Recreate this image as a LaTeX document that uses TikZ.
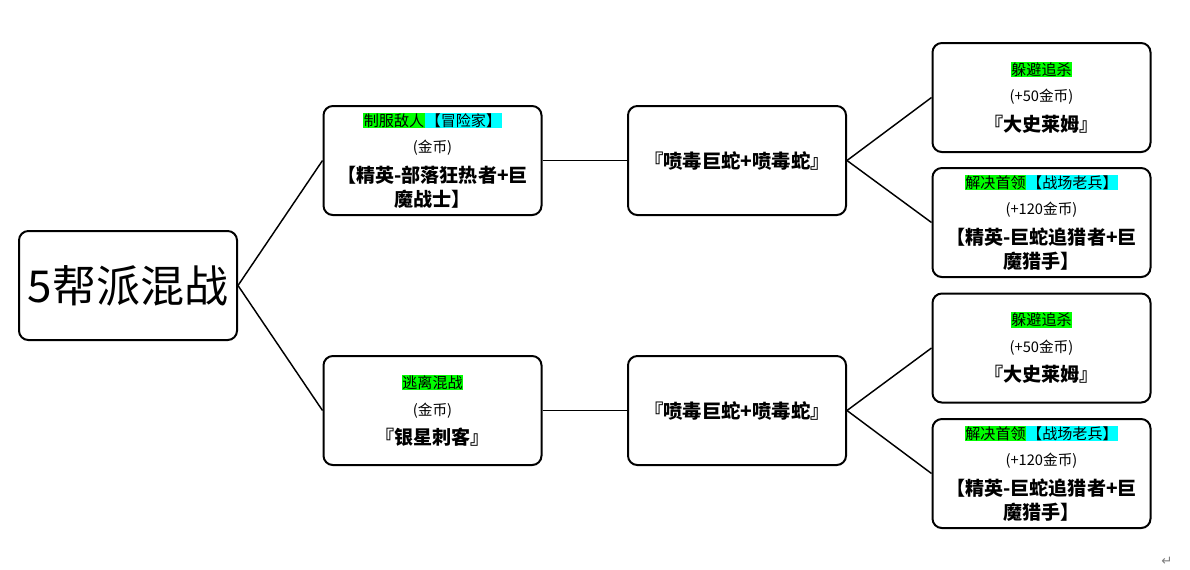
\documentclass[tikz,border=0pt]{standalone}
\usepackage{fontspec}
\setmainfont{Noto Sans CJK SC}
\newfontfamily\symfont{DejaVu Sans}
\usetikzlibrary{positioning}
\definecolor{hlgreen}{RGB}{0,255,0}
\definecolor{hlcyan}{RGB}{0,255,255}
\newcommand{\taggreen}[1]{{\setlength{\fboxsep}{0.6pt}\colorbox{hlgreen}{#1}}}
\newcommand{\tagcyan}[1]{{\setlength{\fboxsep}{0.6pt}\colorbox{hlcyan}{#1}}}
\newcommand{\gold}[1]{{\fontsize{11}{20}\selectfont #1}}
\newcommand{\boss}[1]{{\fontsize{14.3}{20}\selectfont\bfseries #1}}
\tikzset{box/.style={draw, line width=1.5pt, rounded corners=7pt, minimum width=163.5pt, minimum height=81.75pt, align=center, font=\fontsize{11.3}{20}\selectfont}}
\tikzset{link/.style={line width=1.1pt}}

\begin{document}
\begin{tikzpicture}[x=0.75pt,y=-0.75pt]
\useasboundingbox (0,0) rectangle (1190,569);
%%%%
\node[box, font=\fontsize{33}{38}\selectfont] (root) at (128,285.5) {5帮派混战};
%%%%
\node[box] (fight) at (432.5,160.5) {\taggreen{制服敌人}\tagcyan{【冒险家】}\\
\gold{(金币)}\\[2pt]
\boss{【精英-部落狂热者+巨}\\[-2pt]
\boss{魔战士】}};
\node[box] (flee) at (432.5,410.5) {\taggreen{逃离混战}\\
\gold{(金币)}\\[2pt]
\boss{『银星刺客』}};
%%%%
\node[box, font=\fontsize{14.5}{20}\selectfont\bfseries] (snakeA) at (737,160.5) {『喷毒巨蛇+喷毒蛇』};
\node[box, font=\fontsize{14.5}{20}\selectfont\bfseries] (snakeB) at (737,410.5) {『喷毒巨蛇+喷毒蛇』};
%%%%
\node[box] (dodgeA) at (1041.5,97.5) {\taggreen{躲避追杀}\\
\gold{(+50金币)}\\[2pt]
\boss{『大史莱姆』}};
\node[box] (chiefA) at (1041.5,222.5) {\taggreen{解决首领}\tagcyan{【战场老兵】}\\
\gold{(+120金币)}\\[2pt]
\boss{【精英-巨蛇追猎者+巨}\\[-2pt]
\boss{魔猎手】}};
\node[box] (dodgeB) at (1041.5,348) {\taggreen{躲避追杀}\\
\gold{(+50金币)}\\[2pt]
\boss{『大史莱姆』}};
\node[box] (chiefB) at (1041.5,473.5) {\taggreen{解决首领}\tagcyan{【战场老兵】}\\
\gold{(+120金币)}\\[2pt]
\boss{【精英-巨蛇追猎者+巨}\\[-2pt]
\boss{魔猎手】}};
%%%%
\draw[link] (root.east) -- (fight.west);
\draw[link] (root.east) -- (flee.west);
\draw[link] (fight.east) -- (snakeA.west);
\draw[link] (flee.east) -- (snakeB.west);
\draw[link] (snakeA.east) -- (dodgeA.west);
\draw[link] (snakeA.east) -- (chiefA.west);
\draw[link] (snakeB.east) -- (dodgeB.west);
\draw[link] (snakeB.east) -- (chiefB.west);
%%%%
\node[text=gray, font=\symfont\fontsize{10}{12}\selectfont] (mark) at (1167,561) {↵};
\end{tikzpicture}
\end{document}
